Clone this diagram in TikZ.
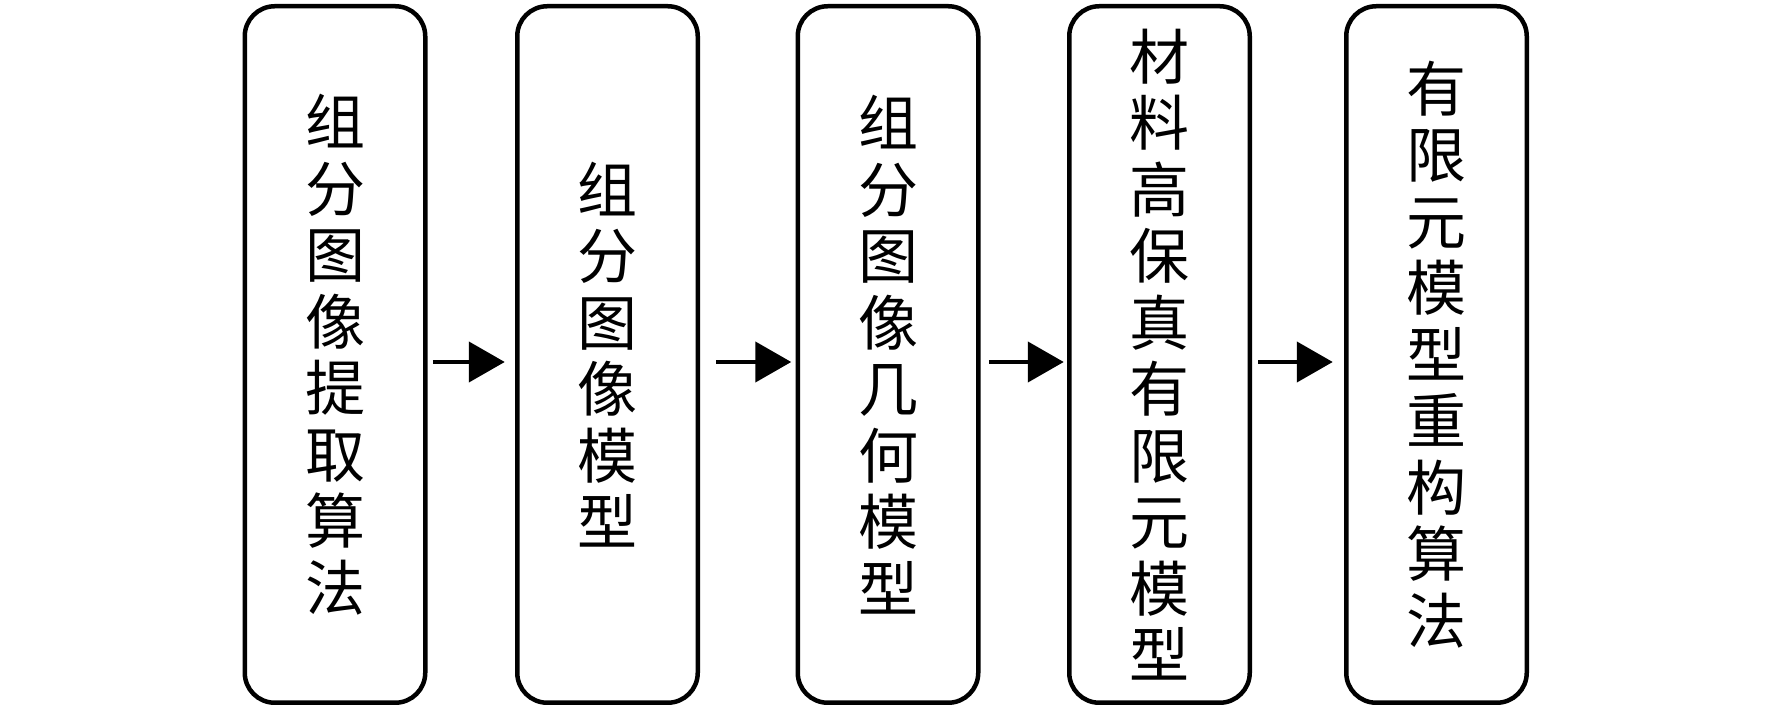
\documentclass[tikz,border=0pt]{standalone}
\usepackage{fontspec}
\newfontfamily\cjk{Noto Sans CJK SC}
\usetikzlibrary{arrows.meta,calc}
\tikzset{
  stepbox/.style={draw=black, line width=4.5pt, rounded corners=30pt, minimum width=180.5pt, minimum height=696.5pt, inner sep=0pt, align=center, font=\cjk\fontsize{60}{66.5}\selectfont},
  flow/.style={line width=4.5pt, -{Triangle[length=36pt,width=40pt]}}
}
\begin{document}
\begin{tikzpicture}[x=1pt,y=1pt]
\useasboundingbox (0,0) rectangle (1772,709);
\node[stepbox] (b1) at (335,354.5) {组\\分\\图\\像\\提\\取\\算\\法};
\node[stepbox] (b2) at (607.5,354.5) {组\\分\\图\\像\\模\\型};
\node[stepbox] (b3) at (888,354.5) {组\\分\\图\\像\\几\\何\\模\\型};
\node[stepbox] (b4) at (1159.5,354.5) {材\\料\\高\\保\\真\\有\\限\\元\\模\\型};
\node[stepbox] (b5) at (1436.5,354.5) {有\\限\\元\\模\\型\\重\\构\\算\\法};
\draw[flow] ($(b1.east)+(5.25,-7.5)$) -- ($(b2.west)+(-10.25,-7.5)$);
\draw[flow] ($(b2.east)+(16.25,-7.5)$) -- ($(b3.west)+(-4.25,-7.5)$);
\draw[flow] ($(b3.east)+(8.25,-7.5)$) -- ($(b4.west)+(-3.25,-7.5)$);
\draw[flow] ($(b4.east)+(6.25,-7.5)$) -- ($(b5.west)+(-11.25,-7.5)$);
\end{tikzpicture}
\end{document}
